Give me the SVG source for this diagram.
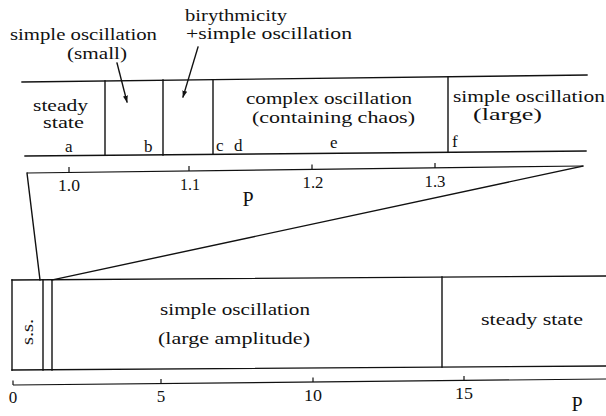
<svg xmlns="http://www.w3.org/2000/svg" width="606" height="416" viewBox="0 0 606 416">
<style>
.ln{stroke:#111;stroke-width:1.4;fill:none;stroke-linecap:square}
.ax{stroke:#111;stroke-width:1.2;fill:none}
text{font-family:"Liberation Serif","Times New Roman",serif;fill:#111;font-size:17px}
.sm{font-size:16px}
.big{font-size:20px}
</style>
<defs>
<marker id="ah" viewBox="0 0 10 10" refX="9" refY="5" markerWidth="7" markerHeight="7" orient="auto" markerUnits="userSpaceOnUse">
<path d="M0,1.5 L10,5 L0,8.5 z" fill="#111"/>
</marker>
</defs>
<rect width="606" height="416" fill="#fff"/>

<g id="connectors">
<line class="ln" x1="117" y1="63" x2="127" y2="102" marker-end="url(#ah)"/>
<line class="ln" x1="198" y1="47" x2="183" y2="97" marker-end="url(#ah)"/>
<line class="ln" x1="27" y1="173" x2="40" y2="280"/>
<line class="ln" x1="583" y1="166" x2="52" y2="280"/>
</g>

<g id="top-band">
<line class="ln" x1="22" y1="82" x2="587" y2="75"/>
<line class="ln" x1="25" y1="156" x2="586" y2="151"/>
<line class="ln" x1="105" y1="81" x2="105" y2="155"/>
<line class="ln" x1="163" y1="80" x2="163" y2="155"/>
<line class="ln" x1="213" y1="80" x2="213" y2="154"/>
<line class="ln" x1="448" y1="77" x2="448" y2="152"/>
</g>

<g id="top-labels">
<text class="sm" x="10" y="40" textLength="147" lengthAdjust="spacingAndGlyphs">simple oscillation</text>
<text class="sm" x="67" y="59" textLength="60" lengthAdjust="spacingAndGlyphs">(small)</text>
<text class="sm" x="185" y="21" textLength="102" lengthAdjust="spacingAndGlyphs">birythmicity</text>
<text class="sm" x="186" y="39" textLength="166" lengthAdjust="spacingAndGlyphs">+simple oscillation</text>
</g>

<g id="node-steady">
<text class="sm" x="33" y="111" textLength="55" lengthAdjust="spacingAndGlyphs">steady</text>
<text class="sm" x="43" y="128" textLength="41" lengthAdjust="spacingAndGlyphs">state</text>
<text x="65" y="152">a</text>
</g>
<g id="node-b"><text x="144" y="152">b</text></g>
<g id="node-cd"><text x="216" y="151">c</text><text x="234" y="151">d</text></g>
<g id="node-complex">
<text class="sm" x="246" y="104" textLength="166" lengthAdjust="spacingAndGlyphs">complex oscillation</text>
<text class="sm" x="252" y="123" textLength="163" lengthAdjust="spacingAndGlyphs">(containing chaos)</text>
<text x="330" y="148">e</text>
</g>
<g id="node-large">
<text class="sm" x="453" y="102" textLength="152" lengthAdjust="spacingAndGlyphs">simple oscillation</text>
<text class="sm" x="473" y="120" textLength="69" lengthAdjust="spacingAndGlyphs">(large)</text>
<text x="452" y="147">f</text>
</g>

<g id="top-axis">
<line class="ax" x1="27" y1="173" x2="583" y2="166"/>
<line class="ax" x1="69" y1="172.5" x2="69" y2="167"/>
<line class="ax" x1="189" y1="171" x2="189" y2="166"/>
<line class="ax" x1="312" y1="169.5" x2="312" y2="164.5"/>
<line class="ax" x1="435" y1="168" x2="435" y2="163"/>
<text x="69" y="191" text-anchor="middle" textLength="22" lengthAdjust="spacingAndGlyphs">1.0</text>
<text x="190" y="190" text-anchor="middle" textLength="20" lengthAdjust="spacingAndGlyphs">1.1</text>
<text x="313" y="188" text-anchor="middle" textLength="21" lengthAdjust="spacingAndGlyphs">1.2</text>
<text x="435" y="187" text-anchor="middle" textLength="21" lengthAdjust="spacingAndGlyphs">1.3</text>
<text class="big" x="248" y="206" text-anchor="middle">P</text>
</g>

<g id="bottom-band">
<line class="ln" x1="12" y1="280" x2="606" y2="276"/>
<line class="ln" x1="12" y1="370" x2="606" y2="366"/>
<line class="ln" x1="12" y1="280" x2="12" y2="370"/>
<line class="ln" x1="43" y1="280" x2="43" y2="370"/>
<line class="ln" x1="52" y1="280" x2="52" y2="370"/>
<line class="ln" x1="442" y1="277" x2="442" y2="367"/>
</g>

<g id="node-ss">
<text transform="translate(33,332) rotate(-90)" text-anchor="middle" textLength="26" lengthAdjust="spacingAndGlyphs">s.s.</text>
</g>
<g id="node-simple-large">
<text x="160" y="315" textLength="150" lengthAdjust="spacingAndGlyphs">simple oscillation</text>
<text x="158" y="344" textLength="152" lengthAdjust="spacingAndGlyphs">(large amplitude)</text>
</g>
<g id="node-steady-state">
<text x="481" y="325" textLength="102" lengthAdjust="spacingAndGlyphs">steady state</text>
</g>

<g id="bottom-axis">
<line class="ax" x1="13" y1="385" x2="606" y2="379"/>
<line class="ax" x1="13" y1="385" x2="13" y2="380.5"/>
<line class="ax" x1="161" y1="383.5" x2="161" y2="379"/>
<line class="ax" x1="313" y1="382" x2="313" y2="377.5"/>
<line class="ax" x1="464" y1="380.5" x2="464" y2="376"/>
<text x="13" y="403" text-anchor="middle">0</text>
<text x="161" y="402" text-anchor="middle">5</text>
<text x="313" y="401" text-anchor="middle" textLength="18" lengthAdjust="spacingAndGlyphs">10</text>
<text x="464" y="399" text-anchor="middle" textLength="18" lengthAdjust="spacingAndGlyphs">15</text>
<text class="big" x="577" y="411" text-anchor="middle">P</text>
</g>
</svg>
